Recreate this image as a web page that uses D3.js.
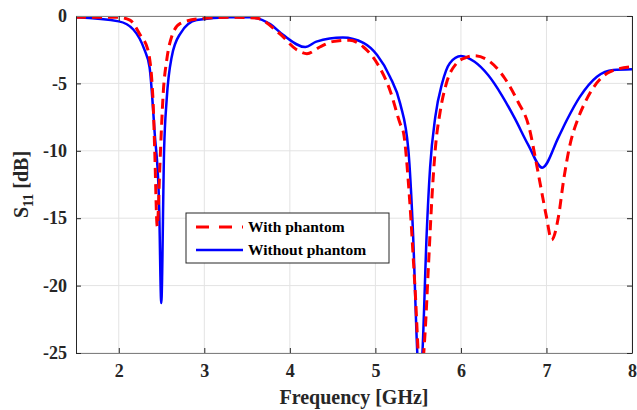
<!DOCTYPE html>
<html>
<head>
<meta charset="utf-8">
<script src="https://cdn.jsdelivr.net/npm/d3@7"></script>
<style>
  body { margin: 0; background: #fff; }
  text { font-family: "Liberation Serif", "Times New Roman", serif; font-weight: bold; }
</style>
</head>
<body>
<div class="chart"></div>
<script>
// data (frequency in GHz, S11 in dB)
var freqWith = [1.5, 2.0, 2.13, 2.25, 2.34, 2.40, 2.42, 2.45, 2.48, 2.50, 2.52, 2.56, 2.62, 2.72, 2.95, 3.3, 3.6, 3.88, 4.08, 4.2, 4.35, 4.5, 4.7, 4.86, 5.02, 5.17, 5.29, 5.33, 5.4, 5.46, 5.53, 5.58, 5.62, 5.66, 5.70, 5.76, 5.83, 5.95, 6.05, 6.16, 6.32, 6.51, 6.67, 6.79, 6.89, 6.94, 7.0, 7.06, 7.14, 7.2, 7.27, 7.37, 7.46, 7.55, 7.74, 8.0];
var s11With = [-0.1, -0.1, -0.3, -1.4, -2.5, -6.2, -9.9, -15.6, -11.2, -8.2, -5.7, -3.3, -1.5, -0.55, -0.2, -0.1, -0.15, -1.3, -2.5, -2.8, -2.3, -1.9, -1.8, -2.3, -3.5, -5.5, -8.0, -8.7, -13.6, -19.8, -27, -23.6, -18.6, -13.6, -9.9, -7.0, -5.0, -3.5, -3.1, -2.95, -3.3, -4.6, -6.4, -8.1, -11.2, -12.9, -14.9, -16.6, -14.9, -12.2, -9.7, -7.6, -6.3, -5.3, -4.15, -3.75];

var freqWithout = [1.5, 2.0, 2.17, 2.3, 2.36, 2.42, 2.47, 2.497, 2.53, 2.56, 2.62, 2.72, 2.91, 3.3, 3.53, 3.77, 3.92, 4.18, 4.31, 4.62, 4.86, 5.02, 5.17, 5.29, 5.385, 5.44, 5.49, 5.52, 5.55, 5.6, 5.64, 5.7, 5.78, 5.87, 6.0, 6.16, 6.32, 6.48, 6.63, 6.79, 6.95, 7.14, 7.24, 7.39, 7.59, 7.78, 8.0];
var s11Without = [-0.1, -0.4, -1.0, -2.5, -3.8, -8.7, -13.6, -21.3, -9.9, -6.2, -3.0, -1.3, -0.3, -0.1, -0.1, -0.6, -1.4, -2.3, -1.9, -1.6, -2.0, -2.9, -4.5, -6.5, -9.9, -16.1, -25, -28, -25, -16.1, -11.2, -7.5, -5.0, -3.5, -2.97, -3.4, -4.4, -5.9, -7.6, -9.6, -11.25, -9.0, -7.7, -6.0, -4.5, -4.0, -3.95];

var xTicks = [2, 3, 4, 5, 6, 7, 8];
var yTicks = [0, -5, -10, -15, -20, -25];
var seriesNames = ["With phantom", "Without phantom"];

var svgWidth = 637;
var svgHeight = 410;
var margin = { top: 16, right: 5, bottom: 57, left: 76 };
var width = svgWidth - margin.left - margin.right;
var height = svgHeight - margin.top - margin.bottom;

var svg = d3.select(".chart")
  .append("svg")
  .attr("width", svgWidth)
  .attr("height", svgHeight);

var chartGroup = svg.append("g")
  .attr("transform", `translate(${margin.left}, ${margin.top})`);

var x = d3.scaleLinear().domain([1.5, 8]).range([0, width]);
var y = d3.scaleLinear().domain([-25, 0]).range([height, 0]);

// grid
chartGroup.append("g")
  .selectAll("line")
  .data(xTicks)
  .enter().append("line")
  .attr("x1", d => x(d)).attr("x2", d => x(d))
  .attr("y1", 0).attr("y2", height)
  .attr("stroke", "#e3e3e3").attr("stroke-width", 1);

chartGroup.append("g")
  .selectAll("line")
  .data(yTicks)
  .enter().append("line")
  .attr("x1", 0).attr("x2", width)
  .attr("y1", d => y(d)).attr("y2", d => y(d))
  .attr("stroke", "#e3e3e3").attr("stroke-width", 1);

// clip
svg.append("defs").append("clipPath").attr("id", "clip")
  .append("rect").attr("width", width).attr("height", height);

var line = d3.line()
  .x(d => x(d[0]))
  .y(d => y(d[1]))
  .curve(d3.curveMonotoneX);

var lines = chartGroup.append("g").attr("clip-path", "url(#clip)");

lines.append("path")
  .datum(d3.zip(freqWithout, s11Without))
  .attr("fill", "none")
  .attr("stroke", "#0000ff")
  .attr("stroke-width", 2.5)
  .attr("d", line);

lines.append("path")
  .datum(d3.zip(freqWith, s11With))
  .attr("fill", "none")
  .attr("stroke", "#ff0000")
  .attr("stroke-width", 3)
  .attr("stroke-dasharray", "10,6")
  .attr("d", line);

// axes (MATLAB style box with inward ticks)
var fmt = d => String(d);
var bottomAxis = d3.axisBottom(x).tickValues(xTicks).tickSizeInner(-5).tickSizeOuter(0).tickPadding(12).tickFormat(fmt);
var leftAxis = d3.axisLeft(y).tickValues(yTicks).tickSizeInner(-5).tickSizeOuter(0).tickPadding(9).tickFormat(fmt);
var topAxis = d3.axisTop(x).tickValues(xTicks).tickSizeInner(-5).tickSizeOuter(0).tickFormat("");
var rightAxis = d3.axisRight(y).tickValues(yTicks).tickSizeInner(-5).tickSizeOuter(0).tickFormat("");

var gx = chartGroup.append("g")
  .attr("transform", `translate(0, ${height})`)
  .call(bottomAxis);
var gy = chartGroup.append("g").call(leftAxis);
var gt = chartGroup.append("g").call(topAxis);
var gr = chartGroup.append("g").attr("transform", `translate(${width}, 0)`).call(rightAxis);

[gx, gy, gt, gr].forEach(function(g) {
  g.selectAll("path, line").attr("stroke", "#262626");
  g.selectAll("text")
    .attr("fill", "#262626")
    .style("font-size", "18px")
    .style("font-family", "Liberation Serif")
    .style("font-weight", "bold");
});
gx.selectAll("text").attr("dy", "0.65em");
gt.select("path").attr("stroke", "#808080");
gx.select("path").attr("stroke", "#808080");

// axis labels
chartGroup.append("text")
  .attr("x", width / 2)
  .attr("y", height + 51)
  .attr("text-anchor", "middle")
  .style("font-size", "20px")
  .attr("fill", "#262626")
  .text("Frequency [GHz]");

var yl = chartGroup.append("text")
  .attr("transform", `translate(${-48}, ${height / 2}) rotate(-90)`)
  .attr("text-anchor", "middle")
  .style("font-size", "20px")
  .attr("fill", "#262626");
yl.append("tspan").text("S");
yl.append("tspan").attr("dy", 5).style("font-size", "14px").text("11");
yl.append("tspan").attr("dy", -5).text(" [dB]");

// legend
var legend = svg.append("g").attr("transform", "translate(186, 213)");
legend.append("rect")
  .attr("width", 203).attr("height", 50)
  .attr("fill", "#fff").attr("stroke", "#262626").attr("stroke-width", 1);

var legendStyles = [
  { color: "#ff0000", dash: "13,10", width: 3 },
  { color: "#0000ff", dash: null, width: 2.5 }
];

seriesNames.forEach(function(name, i) {
  var row = legend.append("g").attr("transform", `translate(0, ${14 + i * 23})`);
  row.append("line")
    .attr("x1", 10).attr("x2", 57)
    .attr("stroke", legendStyles[i].color)
    .attr("stroke-width", legendStyles[i].width)
    .attr("stroke-dasharray", legendStyles[i].dash);
  row.append("text")
    .attr("x", 62).attr("dy", "0.35em")
    .style("font-size", "15.5px")
    .attr("fill", "#000")
    .text(name);
});
</script>
</body>
</html>
